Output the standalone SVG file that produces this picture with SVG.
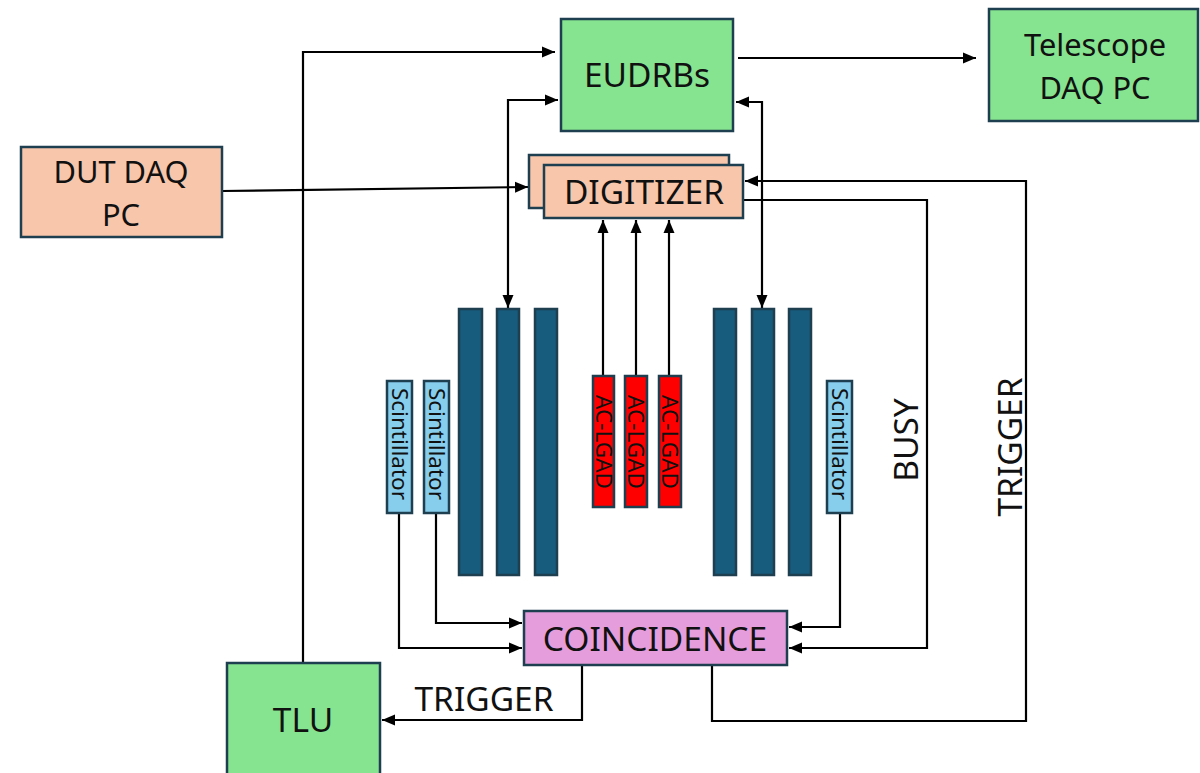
<svg xmlns="http://www.w3.org/2000/svg" width="1200" height="773" viewBox="0 0 1200 773">
<defs>
<style>
.box{stroke:#1d3f4f;stroke-width:2.5}
.green{fill:#86e38f}
.salmon{fill:#f7c6ab}
.pink{fill:#e59edb}
.bar{fill:#175b7d}
.scint{fill:#87cdec}
.red{fill:#ff0000}
.t{font-family:"Noto Sans","Open Sans","DejaVu Sans",sans-serif;fill:#111;text-anchor:middle}
.big{font-size:33.5px}
.two{font-size:30.8px}
.small{font-size:22.5px}
.ln{fill:none;stroke:#000;stroke-width:2.2}
.ar{marker-end:url(#ah)}
.bi{marker-end:url(#ah);marker-start:url(#ah)}
</style>
<marker id="ah" markerUnits="userSpaceOnUse" markerWidth="14" markerHeight="12" refX="13" refY="6" orient="auto-start-reverse" viewBox="0 0 14 12">
<path d="M0,0.5 L13,6 L0,11.5 z" fill="#000"/>
</marker>
</defs>
<rect width="1200" height="773" fill="#fff"/>

<g id="connectors">
<path class="ln ar" d="M303,663 V52 H555"/>
<path class="ln ar" d="M738,58 H976"/>
<path class="ln bi" d="M558,100 H508 V308"/>
<path class="ln bi" d="M736,102 H762 V308"/>
<path class="ln ar" d="M222,191 L528,187"/>
<path class="ln ar" d="M603,376 V220"/>
<path class="ln ar" d="M636,376 V220"/>
<path class="ln ar" d="M669,376 V220"/>
<path class="ln ar" d="M744,200 H927 V648 H789"/>
<path class="ln ar" d="M712,665 V721 H1026 V181 H745"/>
<path class="ln ar" d="M582,665 V720 H382"/>
<path class="ln ar" d="M399,513 V648 H522"/>
<path class="ln ar" d="M436,513 V623 H522"/>
<path class="ln ar" d="M840,513 V627 H789"/>
</g>

<g id="eudrbs">
<rect class="box green" x="561" y="19" width="172" height="112"/>
<text class="t big" x="647" y="87">EUDRBs</text>
</g>
<g id="telescope">
<rect class="box green" x="989" y="9" width="209" height="112"/>
<text class="t two" x="1095" y="56">Telescope</text>
<text class="t two" x="1095" y="98.5">DAQ PC</text>
</g>
<g id="dut-daq-pc">
<rect class="box salmon" x="21" y="147" width="201" height="90"/>
<text class="t two" x="121" y="183">DUT DAQ</text>
<text class="t two" x="121" y="225.5">PC</text>
</g>
<g id="digitizer">
<rect class="box salmon" x="529" y="155" width="200" height="53"/>
<rect class="box salmon" x="544" y="165" width="199" height="53"/>
<text class="t big" x="644" y="204">DIGITIZER</text>
</g>
<g id="coincidence">
<rect class="box pink" x="524" y="611" width="263" height="54"/>
<text class="t big" x="655" y="651">COINCIDENCE</text>
</g>
<g id="tlu">
<rect class="box green" x="227" y="663" width="153" height="120"/>
<text class="t big" x="303" y="732">TLU</text>
</g>

<g id="tracker-left">
<rect class="box bar" x="459" y="309" width="23" height="266"/>
<rect class="box bar" x="497" y="309" width="22" height="266"/>
<rect class="box bar" x="535" y="309" width="22" height="266"/>
</g>
<g id="tracker-right">
<rect class="box bar" x="714" y="309" width="22" height="266"/>
<rect class="box bar" x="752" y="309" width="22" height="266"/>
<rect class="box bar" x="789" y="309" width="22" height="266"/>
</g>

<g id="scintillator-1">
<rect class="box scint" x="387" y="381" width="25" height="132"/>
<text class="t small" transform="translate(399.5,444) rotate(90)" x="0" y="8">Scintillator</text>
</g>
<g id="scintillator-2">
<rect class="box scint" x="424" y="381" width="25" height="132"/>
<text class="t small" transform="translate(436.5,444) rotate(90)" x="0" y="8">Scintillator</text>
</g>
<g id="scintillator-3">
<rect class="box scint" x="827" y="381" width="25" height="132"/>
<text class="t small" transform="translate(839.5,444) rotate(90)" x="0" y="8">Scintillator</text>
</g>

<g id="ac-lgad-1">
<rect class="box red" x="593" y="376" width="21" height="131"/>
<text class="t small" transform="translate(603.5,442) rotate(90)" x="0" y="8">AC-LGAD</text>
</g>
<g id="ac-lgad-2">
<rect class="box red" x="625" y="376" width="22" height="131"/>
<text class="t small" transform="translate(636,442) rotate(90)" x="0" y="8">AC-LGAD</text>
</g>
<g id="ac-lgad-3">
<rect class="box red" x="659" y="376" width="22" height="131"/>
<text class="t small" transform="translate(670,442) rotate(90)" x="0" y="8">AC-LGAD</text>
</g>

<g id="labels">
<text class="t big" transform="translate(906,440) rotate(-90)" x="0" y="12">BUSY</text>
<text class="t big" transform="translate(1010,447) rotate(-90)" x="0" y="12">TRIGGER</text>
<text class="t big" x="484" y="711">TRIGGER</text>
</g>
</svg>
